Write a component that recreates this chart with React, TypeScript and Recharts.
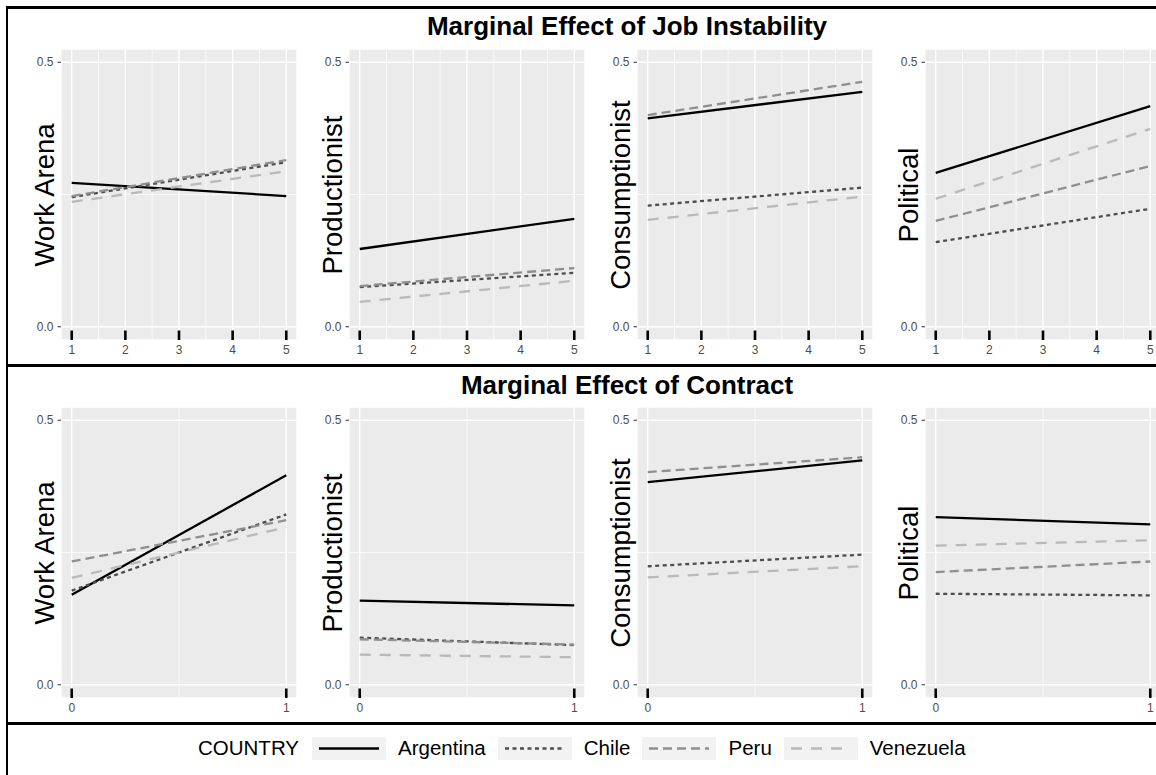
import React from 'react';
import { ComposedChart, Line, Scatter, XAxis, YAxis, CartesianGrid, ReferenceLine } from 'recharts';

const COUNTRIES = ['Argentina', 'Chile', 'Peru', 'Venezuela'];
const OUTCOMES = ['Work Arena', 'Productionist', 'Consumptionist', 'Political'];

// predicted values at both ends of each line, one pair per outcome (order of OUTCOMES)
const JOB_X = [1, 5];
const JOB_ARGENTINA = [[0.272, 0.247], [0.147, 0.204], [0.394, 0.444], [0.291, 0.417]];
const JOB_CHILE = [[0.245, 0.311], [0.075, 0.102], [0.229, 0.263], [0.160, 0.223]];
const JOB_PERU = [[0.247, 0.315], [0.077, 0.111], [0.400, 0.463], [0.200, 0.304]];
const JOB_VENEZUELA = [[0.236, 0.294], [0.047, 0.087], [0.202, 0.246], [0.242, 0.374]];

const CONTRACT_X = [0, 1];
const CONTRACT_ARGENTINA = [[0.170, 0.396], [0.159, 0.150], [0.383, 0.424], [0.317, 0.303]];
const CONTRACT_CHILE = [[0.178, 0.322], [0.089, 0.075], [0.224, 0.246], [0.172, 0.169]];
const CONTRACT_PERU = [[0.233, 0.311], [0.086, 0.076], [0.402, 0.430], [0.213, 0.233]];
const CONTRACT_VENEZUELA = [[0.202, 0.298], [0.057, 0.052], [0.203, 0.224], [0.263, 0.273]];

const JOB_TICKS = [1, 2, 3, 4, 5];
const JOB_MINOR = [1.5, 2.5, 3.5, 4.5];
const CONTRACT_TICKS = [0, 1];
const CONTRACT_MINOR = [0.5];
const Y_TICKS = [0, 0.5];
const Y_MINOR = [0.25];

const JOB_DOMAIN = [0.8, 5.2];
const CONTRACT_DOMAIN = [-0.05, 1.05];
const Y_DOMAIN = [-0.025, 0.525];

const FONT = '"Liberation Sans", Arial, sans-serif';

const LINE_STYLE: Record<string, { stroke: string; dash?: string }> = {
  Argentina: { stroke: '#000000' },
  Chile: { stroke: '#4d4d4d', dash: '4 3.5' },
  Peru: { stroke: '#8f8f8f', dash: '9 5' },
  Venezuela: { stroke: '#b9b9b9', dash: '11 9' },
};

const PLOT_LEFTS = [61, 349, 637, 925];
const PLOT_W = 236;
const PLOT_H = 291;
const AXIS_W = 61;

const TICK_STYLE = { fontSize: 12, fill: '#4d4d4d', fontFamily: FONT };

function RugMark(props: any) {
  return <rect x={props.cx - 1.3} y={props.cy - 9.5} width={2.6} height={11} fill="#000" />;
}

function Panel({ xs, values, ticks, minor, domain, left, top, title }: any) {
  const rows = xs.map((x: number, i: number) => {
    const r: any = { x };
    COUNTRIES.forEach((c, k) => { r[c] = values[k][i]; });
    return r;
  });
  const rug = ticks.map((x: number) => ({ x, y: Y_DOMAIN[0] }));

  return (
    <>
      <div style={{ position: 'absolute', left: left - AXIS_W, top }}>
        <ComposedChart width={AXIS_W + PLOT_W + 1} height={PLOT_H + 20} data={rows}
          margin={{ top: 0, right: 1, left: 0, bottom: 0 }}>
          <CartesianGrid fill="#EBEBEB" stroke="#ffffff" strokeWidth={1.4} />
          {minor.map((v: number) => (
            <ReferenceLine key={'mx' + v} x={v} stroke="#ffffff" strokeWidth={0.7} />
          ))}
          {Y_MINOR.map(v => (
            <ReferenceLine key={'my' + v} y={v} stroke="#ffffff" strokeWidth={0.7} />
          ))}
          <XAxis dataKey="x" type="number" domain={domain} ticks={ticks} allowDataOverflow
            axisLine={false} tickLine={false} tickSize={3} tickMargin={2} height={20}
            tick={TICK_STYLE} />
          <YAxis type="number" domain={Y_DOMAIN} ticks={Y_TICKS} allowDataOverflow width={AXIS_W}
            axisLine={false} tickSize={3.5} tickMargin={4} tickLine={{ stroke: '#333333' }}
            tickFormatter={(v: number) => v.toFixed(1)}
            tick={TICK_STYLE} />
          {COUNTRIES.map(c => (
            <Line key={c} type="linear" dataKey={c} stroke={LINE_STYLE[c].stroke}
              strokeDasharray={LINE_STYLE[c].dash} strokeWidth={2.3} strokeLinecap="butt"
              dot={false} activeDot={false} isAnimationActive={false} />
          ))}
          <Scatter data={rug} dataKey="y" shape={RugMark} isAnimationActive={false} />
        </ComposedChart>
      </div>
      <div style={{
        position: 'absolute', left: left - 16.5 - 150, top: top + PLOT_H / 2 - 16, width: 300, height: 32,
        lineHeight: '32px', textAlign: 'center', fontSize: 27.5, fontFamily: FONT, color: '#000',
        transform: 'rotate(-90deg)', whiteSpace: 'nowrap',
      }}>{title}</div>
    </>
  );
}

function LegendKey({ country }: { country: string }) {
  const s = LINE_STYLE[country];
  return (
    <svg width={74} height={23} style={{ background: '#F2F2F2', display: 'block' }}>
      <line x1={7} x2={67} y1={11.5} y2={11.5} stroke={s.stroke} strokeWidth={2.3} strokeDasharray={s.dash} />
    </svg>
  );
}

export default function App() {
  const jobSeries = [JOB_ARGENTINA, JOB_CHILE, JOB_PERU, JOB_VENEZUELA];
  const contractSeries = [CONTRACT_ARGENTINA, CONTRACT_CHILE, CONTRACT_PERU, CONTRACT_VENEZUELA];
  const titleStyle: React.CSSProperties = {
    position: 'absolute', left: 0, width: 1254, lineHeight: '30px', fontSize: 26,
    fontWeight: 'bold', textAlign: 'center', whiteSpace: 'nowrap',
  };

  return (
    <div style={{ position: 'absolute', left: 0, top: 0, width: 1156, height: 775, overflow: 'hidden', background: '#fff', fontFamily: FONT }}>
      {/* frame */}
      <div style={{ position: 'absolute', left: 6, top: 6, width: 1200, height: 3, background: '#000' }} />
      <div style={{ position: 'absolute', left: 6, top: 6, width: 2, height: 800, background: '#000' }} />
      <div style={{ position: 'absolute', left: 6, top: 364, width: 1200, height: 3, background: '#000' }} />
      <div style={{ position: 'absolute', left: 6, top: 722, width: 1200, height: 3, background: '#000' }} />

      <div style={{ ...titleStyle, top: 11 }}>Marginal Effect of Job Instability</div>
      <div style={{ ...titleStyle, top: 370 }}>Marginal Effect of Contract</div>

      {OUTCOMES.map((o, i) => (
        <Panel key={'job' + o} title={o} xs={JOB_X} values={jobSeries.map(s => s[i])}
          ticks={JOB_TICKS} minor={JOB_MINOR} domain={JOB_DOMAIN} left={PLOT_LEFTS[i]} top={49} />
      ))}
      {OUTCOMES.map((o, i) => (
        <Panel key={'con' + o} title={o} xs={CONTRACT_X} values={contractSeries.map(s => s[i])}
          ticks={CONTRACT_TICKS} minor={CONTRACT_MINOR} domain={CONTRACT_DOMAIN} left={PLOT_LEFTS[i]} top={407} />
      ))}

      {/* legend */}
      <div style={{ position: 'absolute', left: 198, top: 736, height: 24, display: 'flex', alignItems: 'center', fontSize: 20.5, whiteSpace: 'nowrap' }}>
        <span style={{ marginRight: 13 }}>COUNTRY</span>
        {COUNTRIES.map(c => (
          <React.Fragment key={c}>
            <LegendKey country={c} />
            <span style={{ marginLeft: 12, marginRight: 12 }}>{c}</span>
          </React.Fragment>
        ))}
      </div>
    </div>
  );
}
